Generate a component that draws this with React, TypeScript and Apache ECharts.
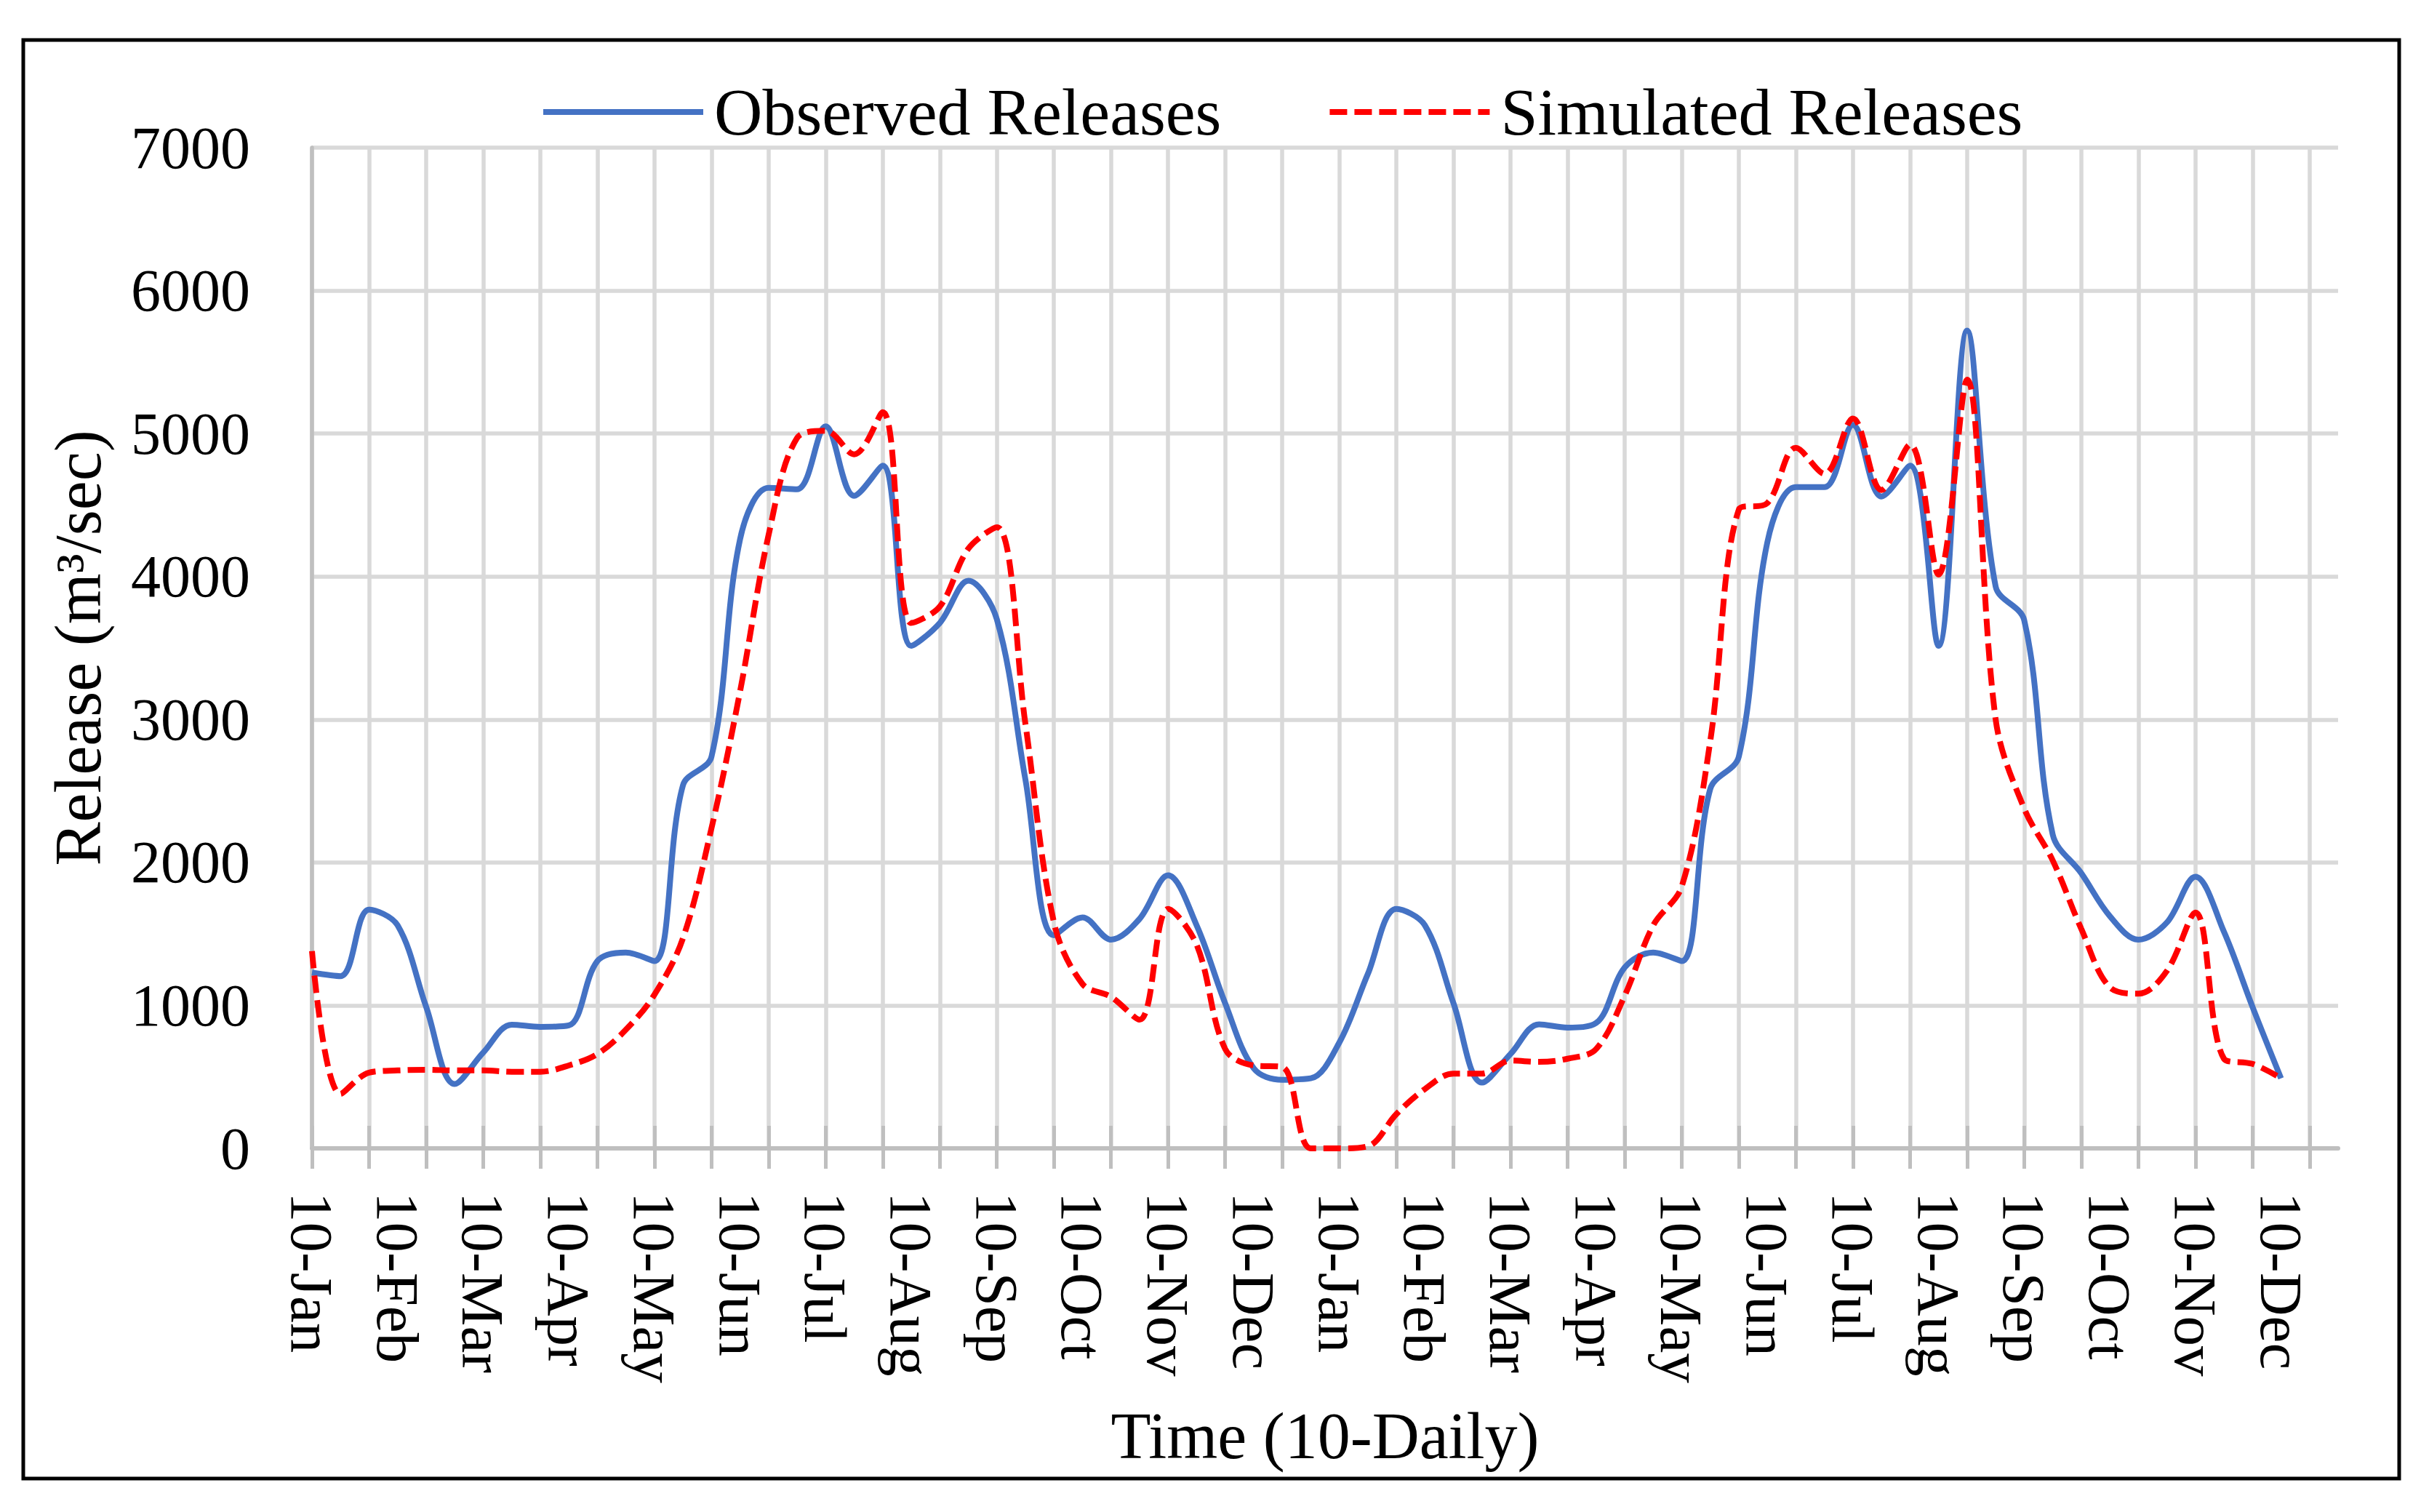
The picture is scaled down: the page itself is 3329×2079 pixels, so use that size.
import React, { useEffect, useRef } from "react";
import * as echarts from "echarts";

const MONTHS = ["Jan", "Feb", "Mar", "Apr", "May", "Jun", "Jul", "Aug", "Sep", "Oct", "Nov", "Dec"];
const DAYS = ["10", "20", "30"];
const YEARS = 2;
const CATEGORIES: string[] = [];
for (let y = 0; y < YEARS; y++) {
  for (const m of MONTHS) {
    for (const d of DAYS) CATEGORIES.push(`${d}-${m}`);
  }
}

const OBSERVED = [
  1230, 1205, 1670, 1560, 990, 450, 670, 865, 850, 860, 1310, 1370,
  1310, 2540, 2740, 4260, 4620, 4610, 5050, 4565, 4775, 3515, 3675, 3970,
  3700, 2580, 1490, 1615, 1460, 1605, 1910, 1560, 1015, 560, 480, 490,
  740, 1220, 1675, 1560, 1015, 460, 660, 868, 845, 877, 1265, 1370,
  1310, 2515, 2740, 4240, 4625, 4625, 5060, 4560, 4775, 3515, 5720, 3930,
  3695, 2195, 1925, 1625, 1460, 1580, 1900, 1515, 990, 490,
];

const SIMULATED = [
  1380, 380, 530, 545, 550, 545, 545, 536, 536, 580, 660, 830,
  1075, 1470, 2240, 3195, 4290, 4970, 5020, 4855, 5150, 3675, 3790, 4195,
  4345, 2970, 1580, 1150, 1060, 900, 1675, 1425, 695, 580, 570, 0,
  0, 15, 240, 415, 523, 523, 614, 605, 627, 695, 1068, 1560,
  1832, 2850, 4468, 4514, 4900, 4718, 5105, 4605, 4923, 4014, 5377, 3000,
  2377, 2014, 1536, 1127, 1082, 1241, 1650, 627, 591, 491,
];

const Y_MIN = 0;
const Y_MAX = 7000;
const Y_INTERVAL = 1000;

const SERIES_NAMES = ["Observed Releases", "Simulated Releases"];
const FONT = "Liberation Serif";

export default function App() {
  const ref = useRef<HTMLDivElement>(null);

  useEffect(() => {
    document.body.style.margin = "0";
    if (!ref.current) return;
    const chart = echarts.init(ref.current, null, { renderer: "svg" });
    const axisGray = "#bfbfbf";
    const gridGray = "#d9d9d9";
    chart.setOption({
      animation: false,
      backgroundColor: "#ffffff",
      textStyle: { fontFamily: FONT, color: "#000" },
      graphic: [
        {
          type: "rect",
          silent: true,
          z: 0,
          shape: { x: 32, y: 55, width: 3267, height: 1978 },
          style: { fill: "none", stroke: "#000", lineWidth: 5 },
        },
      ],
      legend: {
        data: SERIES_NAMES,
        left: 738,
        top: 103,
        itemWidth: 220,
        itemHeight: 20,
        itemGap: 145,
        itemStyle: { opacity: 0 },
        lineStyle: { width: 8 },
        textStyle: { fontSize: 92, fontFamily: FONT, color: "#000", padding: [0, 0, 0, 10] },
      },
      grid: { left: 429, right: 114, top: 203, bottom: 500, containLabel: false },
      xAxis: [
        {
          type: "category",
          data: CATEGORIES,
          boundaryGap: false,
          name: "Time (10-Daily)",
          nameLocation: "middle",
          nameGap: 350,
          nameTextStyle: { fontSize: 90, fontFamily: FONT, color: "#000" },
          axisLine: { show: true, lineStyle: { color: axisGray, width: 6 } },
          axisTick: { show: true, interval: 1, length: 28, lineStyle: { color: axisGray, width: 5 } },
          axisLabel: { interval: 2, rotate: -90, margin: 60, fontSize: 83, fontFamily: FONT, color: "#000" },
          splitLine: { show: true, interval: 1, lineStyle: { color: gridGray, width: 5.5 } },
        },
        {
          type: "category",
          data: CATEGORIES,
          boundaryGap: false,
          position: "bottom",
          axisLine: { show: false },
          axisTick: { show: true, inside: true, interval: 1, length: 31, lineStyle: { color: axisGray, width: 5 } },
          axisLabel: { show: false },
          splitLine: { show: false },
        },
      ],
      yAxis: {
        type: "value",
        min: Y_MIN,
        max: Y_MAX,
        interval: Y_INTERVAL,
        name: "Release (m³/sec)",
        nameLocation: "middle",
        nameGap: 277,
        nameTextStyle: { fontSize: 90, fontFamily: FONT, color: "#000" },
        axisLine: { show: true, lineStyle: { color: axisGray, width: 5.5 } },
        axisTick: { show: false },
        axisLabel: {
          margin: 85,
          fontSize: 82,
          fontFamily: FONT,
          color: "#000",
          formatter: (v: number) => String(v),
        },
        splitLine: { show: true, lineStyle: { color: gridGray, width: 5.5 } },
      },
      series: [
        {
          name: SERIES_NAMES[0],
          type: "line",
          data: OBSERVED,
          smooth: 0.35,
          symbol: "none",
          showSymbol: false,
          clip: false,
          z: 3,
          lineStyle: { color: "#4472C4", width: 8 },
          itemStyle: { color: "#4472C4" },
        },
        {
          name: SERIES_NAMES[1],
          type: "line",
          data: SIMULATED,
          smooth: 0.35,
          symbol: "none",
          showSymbol: false,
          clip: false,
          z: 4,
          lineStyle: { color: "#FF0000", width: 8, type: [24, 10] },
          itemStyle: { color: "#FF0000" },
        },
      ],
    });
    return () => chart.dispose();
  }, []);

  return <div ref={ref} style={{ width: "3329px", height: "2079px" }} />;
}
